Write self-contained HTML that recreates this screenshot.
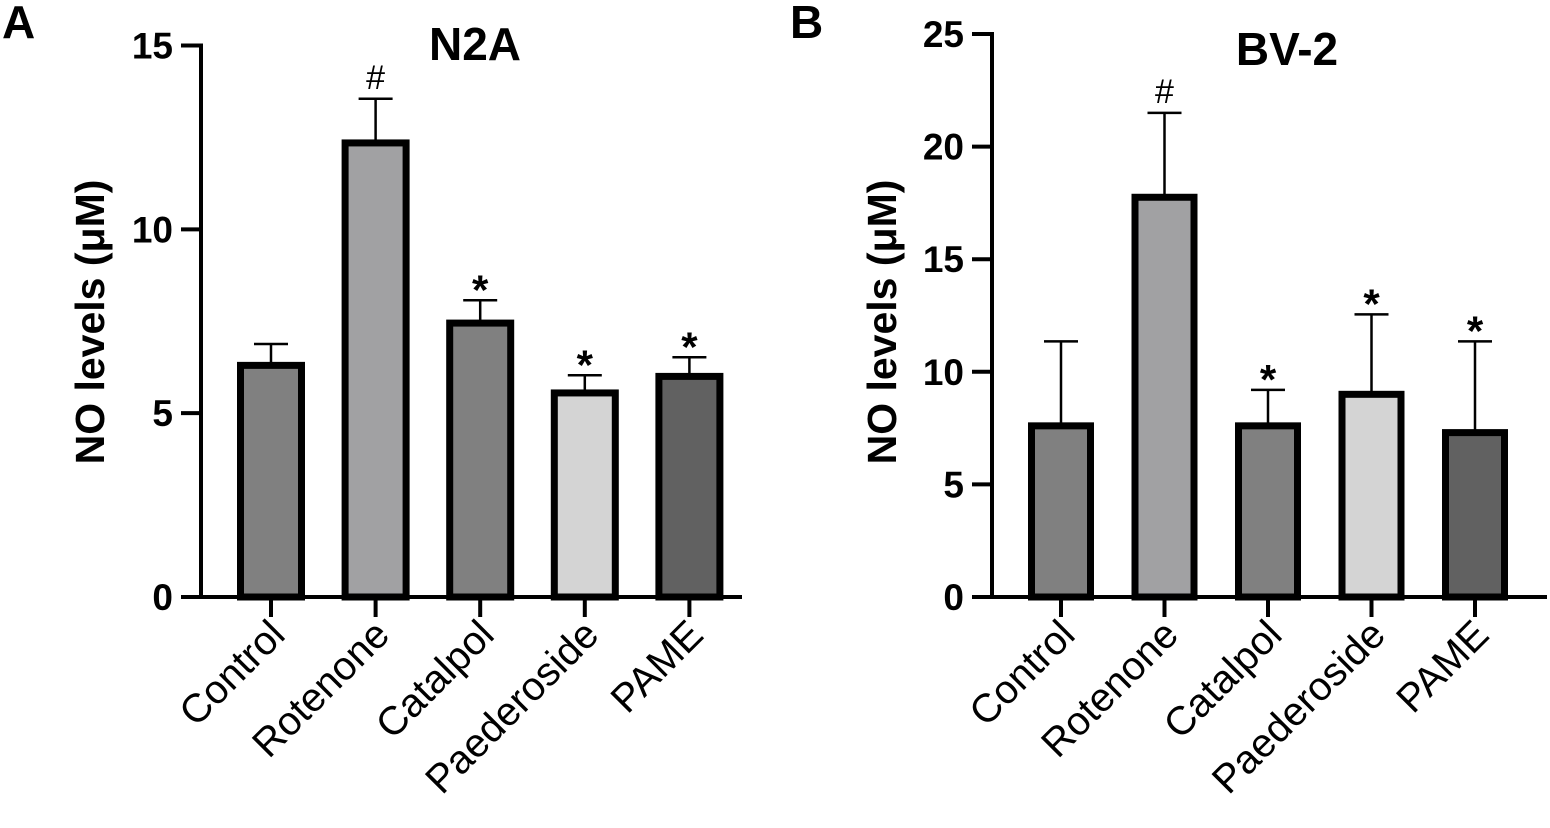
<!DOCTYPE html>
<html><head><meta charset="utf-8"><style>
html,body{margin:0;padding:0;background:#fff;}
svg{display:block;font-family:"Liberation Sans",Arial,sans-serif;}
</style></head><body>
<svg id="fig" width="1550" height="828" viewBox="0 0 1550 828" xmlns="http://www.w3.org/2000/svg"></svg>
<script>
const categories = ["Control","Rotenone","Catalpol","Paederoside","PAME"];
const n2aValues = [6.3, 12.35, 7.45, 5.55, 6.0];
const n2aErrors = [6.88, 13.55, 8.07, 6.03, 6.52];
const n2aMarks = ["", "#", "*", "*", "*"];
const n2aTicks = [0, 5, 10, 15];
const bv2Values = [7.6, 17.75, 7.6, 9.0, 7.3];
const bv2Errors = [11.35, 21.5, 9.2, 12.55, 11.35];
const bv2Marks = ["", "#", "*", "*", "*"];
const bv2Ticks = [0, 5, 10, 15, 20, 25];
const fills = ["#808080","#a1a1a3","#808080","#d4d4d4","#616161"];

const NS = "http://www.w3.org/2000/svg";
const svg = document.getElementById("fig");
function mk(tag, attrs, parent){
  const e = document.createElementNS(NS, tag);
  for (const k in attrs) e.setAttribute(k, attrs[k]);
  (parent||svg).appendChild(e);
  return e;
}

function panel(cfg){
  const g = mk("g", {});
  
  
  const y = v => cfg.y0 - (v / cfg.ymax) * (cfg.y0 - cfg.yTop);
  const cx = i => cfg.firstX + i * cfg.step;
  const ya = mk("line", {x1:cfg.ax, y1:y(cfg.ymax)-2, x2:cfg.ax, y2:cfg.y0+2, stroke:"#000","stroke-width":4}, g);
  
  
  cfg.ticks.forEach(t => {
    const tl = mk("line", {x1:cfg.ax-20, y1:y(t), x2:cfg.ax, y2:y(t), stroke:"#000","stroke-width":4}, g);
    
    
    const tx = mk("text", {x:cfg.ax-28, y:y(t)+13, "text-anchor":"end","font-size":37,"font-weight":"bold"}, g);
    tx.textContent = t;
    
    
  });
  const xa = mk("line", {x1:cfg.ax-20, y1:cfg.y0, x2:cfg.xEnd, y2:cfg.y0, stroke:"#000","stroke-width":4}, g);
  
  
  categories.forEach((c, i) => {
    const x = cx(i), w = cfg.barW;
    const v = cfg.values[i], e = cfg.errors[i];
    const er = mk("line", {x1:x, y1:y(v), x2:x, y2:y(e), stroke:"#000","stroke-width":2.5}, g);
    
    
    const cap = mk("line", {x1:x-17, y1:y(e), x2:x+17, y2:y(e), stroke:"#000","stroke-width":2.5}, g);
    
    
    const b = mk("rect", {x:x-w/2+3.5, y:y(v), width:w-7, height:cfg.y0-y(v), fill:fills[i], stroke:"#000","stroke-width":7}, g);
    
    
    const xt = mk("line", {x1:x, y1:cfg.y0, x2:x, y2:cfg.y0+20, stroke:"#000","stroke-width":4}, g);
    
    
    const lx = x + 16, ly = cfg.y0 + 40;
    const lb = mk("text", {x:lx, y:ly, "text-anchor":"end","font-size":40, transform:`rotate(-45 ${lx} ${ly})`}, g);
    lb.textContent = c;
    
    
    const m = cfg.marks[i];
    if (m) {
      const isHash = m === "#";
      const mt = mk("text", {x:x, y:isHash ? y(e)-10 : y(e)+4, "text-anchor":"middle","font-size":isHash?34:42,"font-weight":isHash?"normal":"bold"}, g);
      mt.textContent = m;
      
      
    }
  });
  const yt = mk("text", {x:0, y:0, "text-anchor":"middle","font-size":41,"font-weight":"bold", transform:`translate(${cfg.titleX} ${cfg.titleY}) rotate(-90)`}, g);
  yt.textContent = "NO levels (μM)";
  
  
  const ct = mk("text", {x:cfg.chartTitleX, y:cfg.chartTitleY, "text-anchor":"middle","font-size":46,"font-weight":"bold"}, g);
  ct.textContent = cfg.title;
  
  
  const pl = mk("text", {x:cfg.letterX, y:38, "font-size":46,"font-weight":"bold"}, g);
  pl.textContent = cfg.letter;
  
  
}

panel({name:"panel-a-n2a", ax:201, y0:597, yTop:45.5, ymax:15, ticks:n2aTicks, firstX:271, step:104.6, barW:68, xEnd:742,
  values:n2aValues, errors:n2aErrors, marks:n2aMarks, titleX:104, titleY:322, title:"N2A", chartTitleX:475, chartTitleY:60, letter:"A", letterX:2});
panel({name:"panel-b-bv2", ax:992, y0:597, yTop:34, ymax:25, ticks:bv2Ticks, firstX:1061, step:103.5, barW:66, xEnd:1547,
  values:bv2Values, errors:bv2Errors, marks:bv2Marks, titleX:896, titleY:322, title:"BV-2", chartTitleX:1287, chartTitleY:65, letter:"B", letterX:790});
</script>
</body></html>
